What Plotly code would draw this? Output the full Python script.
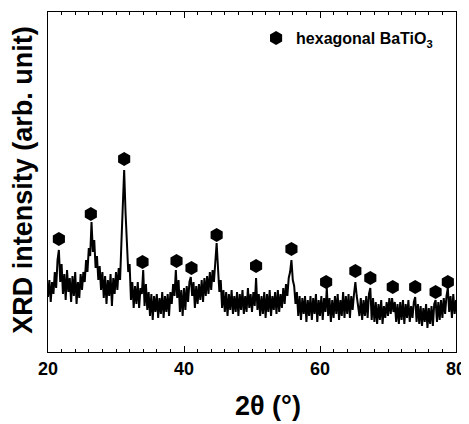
import plotly.graph_objects as go

# 2-theta scan, 0.2 degree steps from 20 to 80 (intensity in arb. units)
two_theta_start = 20.0
two_theta_step = 0.2
intensity = [
    55, 72, 50, 70, 58, 80, 64, 92, 102, 70,
    88, 58, 78, 52, 82, 60, 74, 50, 76, 56,
    80, 48, 70, 54, 78, 62, 80, 70, 92, 80,
    104, 96, 130, 100, 112, 84, 96, 72, 86, 62,
    80, 54, 76, 48, 72, 56, 78, 46, 74, 58,
    80, 62, 84, 72, 110, 150, 182, 140, 106, 80,
    88, 52, 70, 44, 66, 48, 70, 44, 64, 58,
    82, 46, 68, 42, 60, 36, 58, 32, 56, 40,
    58, 34, 54, 38, 60, 34, 56, 40, 58, 36,
    60, 48, 68, 56, 82, 54, 72, 40, 62, 36,
    64, 42, 66, 50, 70, 75, 56, 70, 44, 66,
    48, 68, 52, 72, 50, 74, 56, 76, 58, 80,
    62, 82, 70, 90, 109, 84, 60, 72, 44, 62,
    40, 60, 36, 58, 42, 62, 38, 56, 40, 60,
    36, 58, 42, 62, 38, 56, 40, 64, 44, 58,
    40, 60, 46, 74, 42, 58, 36, 56, 38, 60,
    34, 58, 40, 62, 36, 56, 42, 60, 38, 62,
    40, 58, 44, 64, 48, 68, 56, 74, 80, 92,
    72, 66, 48, 60, 36, 56, 32, 54, 38, 56,
    30, 52, 36, 56, 32, 54, 38, 58, 30, 52,
    36, 56, 32, 54, 40, 64, 36, 54, 30, 52,
    34, 56, 38, 58, 32, 52, 36, 60, 34, 56,
    38, 58, 34, 56, 42, 58, 70, 56, 48, 36,
    54, 32, 52, 36, 56, 34, 58, 64, 32, 54,
    30, 50, 28, 48, 32, 52, 28, 46, 34, 50,
    36, 54, 38, 54, 40, 50, 30, 48, 28, 50,
    32, 52, 28, 48, 34, 52, 30, 46, 34, 50,
    55, 30, 48, 28, 46, 26, 44, 30, 48, 24,
    44, 28, 46, 26, 48, 52, 30, 50, 32, 52,
    34, 54, 38, 56, 64, 40, 56, 34, 58, 38,
    52,
]
two_theta = [round(two_theta_start + two_theta_step * i, 1) for i in range(len(intensity))]

# hexagonal BaTiO3 reflection markers
peak_2theta = [21.6, 26.3, 31.2, 33.9, 38.9, 41.1, 44.8, 50.6, 55.8,
               60.9, 65.2, 67.4, 70.7, 74.0, 77.0, 78.8]
peak_marker_y = [113, 138, 193, 90, 91, 84, 117, 86, 103,
                 70, 81, 74, 65, 65, 60, 70]

x_ticks = [20, 40, 60, 80]

FONT = "Liberation Sans"

fig = go.Figure()
fig.add_trace(go.Scatter(
    x=two_theta, y=intensity, mode="lines",
    line=dict(color="black", width=2),
    showlegend=False, hoverinfo="skip",
))
fig.add_trace(go.Scatter(
    x=peak_2theta, y=peak_marker_y, mode="markers",
    marker=dict(symbol="hexagon", size=14, color="black", line=dict(width=0)),
    name="hexagonal BaTiO<sub>3</sub>",
    showlegend=True, hoverinfo="skip",
))

# the page body keeps its default 8px margin, so the figure is sized to fit the window
fig.update_layout(
    width=461, height=416, autosize=False,
    margin=dict(l=40, r=13, t=4, b=72),
    paper_bgcolor="white", plot_bgcolor="white",
    font=dict(family=FONT, color="black"),
    showlegend=True,
    legend=dict(
        x=0.51, y=0.9235, xanchor="left", yanchor="middle",
        bgcolor="rgba(0,0,0,0)", borderwidth=0,
        font=dict(family=FONT, size=16, weight="bold", color="black"),
    ),
    xaxis=dict(
        range=[20, 80], tickvals=x_ticks, ticktext=[str(v) for v in x_ticks],
        ticks="inside", ticklen=6, tickwidth=1, tickcolor="black",
        minor=dict(dtick=2, ticks="inside", ticklen=3, tickwidth=1, tickcolor="black"),
        showline=True, linecolor="black", linewidth=1, mirror="allticks",
        showgrid=False, zeroline=False,
        tickfont=dict(family=FONT, size=18, weight="bold", color="black"),
    ),
    yaxis=dict(
        range=[0, 340], showticklabels=False, ticks="",
        showline=True, linecolor="black", linewidth=1, mirror=True,
        showgrid=False, zeroline=False,
    ),
    annotations=[
        dict(text="2θ (°)", xref="paper", yref="paper", x=0.539, y=-0.16,
             xanchor="center", yanchor="middle", showarrow=False,
             font=dict(family=FONT, size=27, weight="bold", color="black")),
        dict(text="XRD intensity (arb. unit)", xref="paper", yref="paper",
             x=-0.06, y=0.505, xanchor="center", yanchor="middle",
             textangle=-90, showarrow=False,
             font=dict(family=FONT, size=27, weight="bold", color="black")),
    ],
)

fig.write_html("out.html", config={"responsive": False, "displayModeBar": False})
